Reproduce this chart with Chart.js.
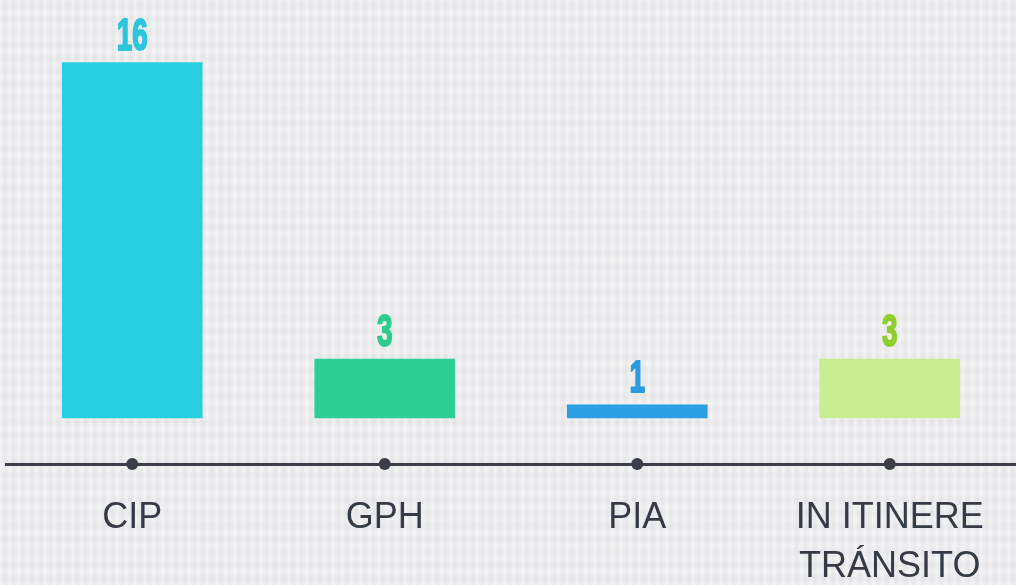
<!DOCTYPE html>
<html>
<head>
<meta charset="utf-8">
<script src="https://cdn.jsdelivr.net/npm/chart.js@4.4.1/dist/chart.umd.min.js"></script>
<style>
  html, body { margin: 0; padding: 0; }
  body {
    width: 1016px; height: 585px; overflow: hidden;
    background-color: #ebebee;
    background-image:
      repeating-linear-gradient(90deg, rgba(255,255,255,0.35) 0px, rgba(255,255,255,0) 3px, rgba(0,0,0,0.02) 5px, rgba(255,255,255,0.25) 9px),
      repeating-linear-gradient(0deg, rgba(255,255,255,0.25) 0px, rgba(0,0,0,0.015) 7px, rgba(255,255,255,0.2) 13px);
  }
  #wrap { position: relative; width: 1016px; height: 585px; }
</style>
</head>
<body>
<div id="wrap"><canvas id="c"></canvas></div>
<script>
const categories = ['CIP', 'GPH', 'PIA', ['IN ITINERE', 'TRÁNSITO']];
const values = [16, 3, 1, 3];
const barColors = ['#27cfe0', '#2ecf96', '#2c9fe2', '#c9ee92'];
const labelColors = ['#2bc6dc', '#2ecb8e', '#2b9be0', '#8fcf2c'];

const axisColor = '#3b3e47';

const decorPlugin = {
  id: 'decor',
  afterDraw(chart) {
    const ctx = chart.ctx;
    const xs = chart.scales.x;
    // axis dots
    ctx.save();
    ctx.fillStyle = axisColor;
    for (let i = 0; i < xs.ticks.length; i++) {
      const px = xs.getPixelForTick(i);
      ctx.beginPath();
      ctx.arc(px, xs.top, 6, 0, Math.PI * 2);
      ctx.fill();
    }
    ctx.restore();
    // value labels
    const meta = chart.getDatasetMeta(0);
    meta.data.forEach((bar, i) => {
      ctx.save();
      ctx.translate(bar.x, bar.y - 13);
      ctx.scale(0.62, 1);
      ctx.font = 'bold 45px "Liberation Sans", Arial, sans-serif';
      ctx.textAlign = 'center';
      ctx.textBaseline = 'alphabetic';
      ctx.fillStyle = labelColors[i];
      ctx.strokeStyle = labelColors[i];
      ctx.lineWidth = 2;
      ctx.lineJoin = 'round';
      ctx.strokeText(String(values[i]), 0, 0);
      ctx.fillText(String(values[i]), 0, 0);
      ctx.restore();
    });
  }
};

new Chart(document.getElementById('c'), {
  type: 'bar',
  data: {
    labels: categories,
    datasets: [{
      data: values,
      backgroundColor: barColors,
      borderWidth: 0,
      barThickness: 140,
      base: 0.42
    }]
  },
  options: {
    responsive: true,
    maintainAspectRatio: false,
    animation: false,
    layout: { padding: { left: 6, right: 0, top: 0, bottom: 0 } },
    plugins: { legend: { display: false }, tooltip: { enabled: false } },
    scales: {
      y: {
        display: false,
        min: -1.6,
        max: 18.75
      },
      x: {
        grid: { display: false, drawTicks: false },
        border: { display: true, color: axisColor, width: 3 },
        ticks: {
          color: '#353a45',
          font: { family: '"Liberation Sans", Arial, sans-serif', size: 36, lineHeight: 1.36 },
          padding: 30,
          maxRotation: 0,
          autoSkip: false
        },
        afterFit(scale) { scale.height = 121; }
      }
    }
  },
  plugins: [decorPlugin]
});
</script>
</body>
</html>
